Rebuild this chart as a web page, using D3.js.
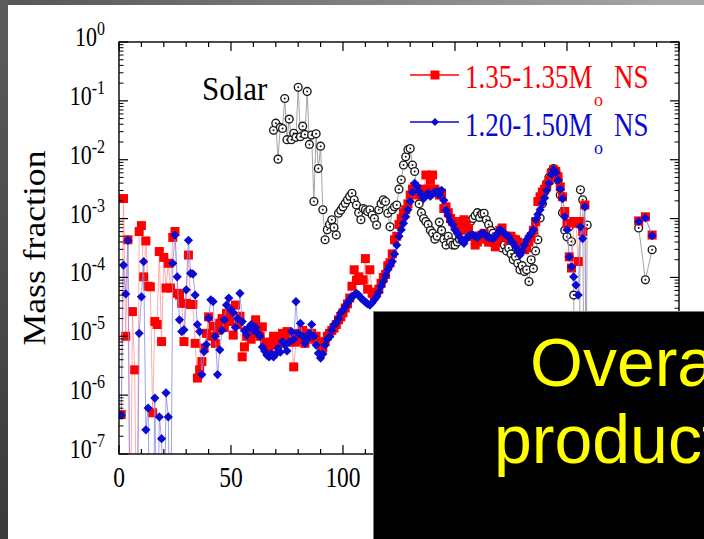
<!DOCTYPE html>
<html>
<head>
<meta charset="utf-8">
<script src="https://cdn.jsdelivr.net/npm/d3@7"></script>
<style>
  html, body { margin: 0; padding: 0; background: #fff; }
  svg { display: block; }
</style>
</head>
<body>
<svg id="chart" width="704" height="539"></svg>
<script>
// Mass number A of every nuclide computed by the two merger models
const nsMass = [
  1,2,3,4,5,6,7,8,9,10, 11,12,13,14,15,16,17,18,19,20,
  21,22,23,24,25,26,27,28,29,30, 31,32,33,34,35,36,37,38,39,40,
  41,42,43,44,45,46,47,48,49,50, 51,52,53,54,55,56,57,58,59,60,
  61,62,63,64,65,66,67,68,69,70, 71,72,73,74,75,76,77,78,79,80,
  81,82,83,84,85,86,87,88,89,90, 91,92,93,94,95,96,97,98,99,100,
  101,102,103,104,105,106,107,108,109,110, 111,112,113,114,115,116,117,118,119,120,
  121,122,123,124,125,126,127,128,129,130, 131,132,133,134,135,136,137,138,139,140,
  141,142,143,144,145,146,147,148,149,150, 151,152,153,154,155,156,157,158,159,160,
  161,162,163,164,165,166,167,168,169,170, 171,172,173,174,175,176,177,178,179,180,
  181,182,183,184,185,186,187,188,189,190, 191,192,193,194,195,196,197,198,199,200,
  201,202,203,204,205,206,207,208,209, 232,235,238
];

// log10 of the mass fraction, 1.35-1.35 Msun NS merger
const logX_135_135 = [
  -6.33,-2.66,-5.00,-3.36,-9,-4.58,-5.57,-9,-3.22,-3.12,
  -3.99,-3.38,-4.15,-4.16,-6.30,-4.75,-4.80,-3.56,-5.09,-3.66,
  -4.18,-3.76,-4.18,-3.32,-3.22,-4.27,-4.30,-4.44,-5.09,-4.44,
  -3.62,-4.46,-4.46,-5.12,-5.71,-5.57,-5.43,-5.20,-4.95,-4.67,
  -5.00,-4.83,-5.12,-4.90,-4.78,-4.70,-4.85,-4.61,-4.70,-4.75,
  -4.98,-4.47,-4.80,-4.66,-5.35,-5.18,-5.00,-4.90,-5.05,-4.95,
  -4.72,-4.85,-5.00,-4.84,-5.10,-5.20,-5.20,-5.10,-5.00,-5.15,
  -5.01,-5.10,-4.95,-5.00,-4.92,-5.10,-5.00,-5.52,-5.10,-4.95,
  -5.05,-4.90,-5.12,-5.00,-4.95,-4.95,-5.05,-5.00,-5.10,-5.15,
  -5.20,-5.09,-5.00,-4.95,-4.90,-4.86,-4.80,-4.72,-4.67,-4.60,
  -4.52,-4.45,-4.35,-4.15,-3.87,-4.05,-3.99,-4.05,-4.04,-3.68,
  -4.20,-3.87,-4.27,-4.30,-4.25,-4.20,-4.10,-4.00,-3.95,-3.80,
  -3.75,-3.60,-3.36,-3.30,-3.10,-3.00,-2.90,-2.85,-2.75,-2.60,
  -2.50,-2.46,-2.50,-2.60,-2.50,-2.54,-2.26,-2.50,-2.35,-2.26,
  -2.50,-2.54,-2.60,-2.57,-2.83,-2.80,-2.90,-3.00,-3.05,-3.11,
  -3.15,-3.20,-3.05,-3.02,-3.10,-3.17,-3.30,-3.30,-3.45,-3.40,
  -3.30,-3.28,-3.25,-3.35,-3.40,-3.35,-3.40,-3.48,-3.35,-3.20,
  -3.16,-3.30,-3.30,-3.36,-3.30,-3.35,-3.36,-3.40,-3.45,-3.48,
  -3.53,-3.50,-3.40,-3.31,-3.20,-3.05,-2.71,-2.63,-2.55,-2.50,
  -2.43,-2.35,-2.23,-2.17,-2.20,-2.29,-2.46,-2.63,-2.88,-3.08,
  -3.65,-3.84,-3.05,-3.08,-3.73,-3.05,-3.22,-2.77,-9,
  -3.04,-2.97,-3.28
];

// log10 of the mass fraction, 1.20-1.50 Msun NS merger
const logX_120_150 = [
  -6.34,-3.79,-4.28,-3.37,-9,-9,-9,-9,-4.95,-4.33,
  -3.73,-6.59,-6.22,-9,-9,-6.05,-9,-6.37,-6.74,-9,
  -5.96,-6.37,-9,-3.76,-3.28,-3.99,-4.72,-4.92,-4.89,-4.21,
  -3.37,-3.93,-3.94,-4.30,-4.80,-4.92,-5.65,-5.26,-5.14,-4.69,
  -4.38,-4.41,-5.00,-5.65,-5.23,-4.90,-4.72,-4.47,-4.35,-4.55,
  -4.60,-4.85,-4.70,-4.27,-4.75,-4.90,-4.98,-4.85,-4.80,-4.90,
  -4.85,-4.95,-5.00,-5.18,-5.25,-5.32,-5.35,-5.30,-5.35,-5.30,
  -5.20,-5.27,-5.09,-5.15,-5.25,-5.10,-4.92,-5.05,-4.41,-4.95,
  -4.78,-5.00,-5.12,-5.05,-4.95,-4.80,-5.00,-5.15,-5.29,-5.37,
  -5.30,-5.15,-5.05,-5.01,-4.90,-4.80,-4.78,-4.70,-4.60,-4.56,
  -4.50,-4.44,-4.38,-4.32,-4.30,-4.27,-4.30,-4.35,-4.38,-4.42,
  -4.45,-4.47,-4.43,-4.38,-4.33,-4.25,-4.15,-4.07,-3.97,-3.87,
  -3.80,-3.73,-3.60,-3.45,-3.30,-3.19,-3.08,-2.97,-2.85,-2.71,
  -2.55,-2.40,-2.45,-2.54,-2.60,-2.66,-2.60,-2.57,-2.62,-2.58,
  -2.55,-2.54,-2.60,-2.52,-2.69,-2.86,-2.95,-3.05,-3.10,-3.19,
  -3.25,-3.31,-3.38,-3.42,-3.35,-3.30,-3.28,-3.28,-3.30,-3.32,
  -3.28,-3.25,-3.25,-3.30,-3.32,-3.33,-3.34,-3.30,-3.25,-3.19,
  -3.22,-3.25,-3.28,-3.31,-3.38,-3.42,-3.48,-3.55,-3.62,-3.55,
  -3.45,-3.36,-3.30,-3.25,-3.19,-3.02,-2.93,-2.85,-2.74,-2.65,
  -2.52,-2.40,-2.25,-2.17,-2.22,-2.35,-2.50,-2.66,-2.97,-3.19,
  -3.65,-3.82,-3.99,-4.13,-4.30,-3.14,-3.34,-2.80,-9,
  -3.05,-2.99,-3.29
];

// Solar-system abundance pattern (scaled), mass numbers and log10 mass fraction
const solarMass = [
  69,70,71,72,73,74,75,76,77,78, 79,80,81,82,83,84,85,86,87,88,
  89,90,91,92,93,94,95,96,97,98, 99,100,101,102,103,104,105,106,107,108,
  109,110,111,112,113,114,115,116,117,118, 119,120,121,122,123,124,125,126,127,128,
  129,130,131,132,133,134,135,136,137,138, 139,140,141,142,143,144,145,146,147,148,
  149,150,151,152,153,154,155,156,157,158, 159,160,161,162,163,164,165,166,167,168,
  169,170,171,172,173,174,175,176,177,178, 179,180,181,182,183,184,185,186,187,188,
  189,190,191,192,193,194,195,196,197,198, 199,200,201,202,203,204,205,206,207,208,
  209, 232,235,238
];
const logX_solar = [
  -1.50,-1.38,-1.99,-1.45,-1.47,-0.96,-1.66,-1.31,-1.66,-1.55,
  -1.62,-0.77,-1.61,-1.43,-1.57,-0.84,-1.74,-1.58,-2.71,-1.56,
  -2.15,-1.77,-2.85,-3.36,-3.19,-3.10,-3.02,-3.15,-3.28,-2.91,
  -2.86,-2.80,-2.74,-2.68,-2.62,-2.57,-2.68,-2.77,-2.90,-3.02,
  -2.83,-2.85,-2.88,-2.85,-2.94,-3.00,-3.11,-2.85,-2.75,-2.68,
  -2.71,-2.91,-3.14,-2.85,-2.80,-2.77,-2.50,-2.34,-2.09,-1.95,
  -1.83,-1.81,-2.09,-2.20,-2.55,-2.75,-2.90,-3.00,-3.05,-3.10,
  -3.20,-3.25,-3.35,-3.30,-3.06,-3.20,-3.35,-3.45,-3.30,-3.40,
  -3.45,-3.45,-3.40,-3.35,-3.30,-3.25,-3.20,-3.15,-3.05,-3.00,
  -2.95,-2.90,-2.98,-2.92,-2.91,-3.02,-3.10,-3.20,-3.25,-3.35,
  -3.40,-3.45,-3.50,-3.45,-3.55,-3.50,-3.60,-3.70,-3.65,-3.76,
  -3.87,-3.80,-3.90,-3.87,-4.07,-3.70,-3.85,-3.55,-3.36,-2.99,
  -2.75,-2.55,-2.40,-2.30,-2.20,-2.15,-2.20,-2.35,-2.60,-2.90,
  -3.20,-3.31,-3.14,-3.39,-4.30,-9,-9,-2.51,-2.68,-9,
  -3.11, -3.16,-4.04,-3.53
];

// axis ticks; only the first three x labels lie outside the caption box
const xTicksMajor = [0, 50, 100, 150, 200, 250];
const xTickLabels = [0, 50, 100];
const yDecades = [0, -1, -2, -3, -4, -5, -6, -7];
const legendLabels = ["1.35-1.35M", "1.20-1.50M"];

const svg = d3.select("#chart");
const W = 704, H = 539;
const m = { left: 119, right: 679, top: 42, bottom: 454 };

const x = d3.scaleLinear().domain([0, 250]).range([m.left, m.right]);
const y = d3.scaleLinear().domain([-7, 0]).range([m.bottom, m.top]);

const serif = "'Liberation Serif', 'Times New Roman', Times, serif";

// plot clip so points/lines below 10^-7 are cut at the frame
const defs = svg.append("defs");
defs.append("clipPath").attr("id", "plotClip")
  .append("rect").attr("x", m.left).attr("y", m.top)
  .attr("width", m.right - m.left).attr("height", m.bottom - m.top);

const plot = svg.append("g").attr("clip-path", "url(#plotClip)");

function toPoints(masses, vals) {
  return masses.map((a, i) => ({ a, v: vals[i] }));
}
// split a series where mass numbers jump (e.g. the actinides)
function segments(pts) {
  const out = [];
  let cur = [];
  pts.forEach((p, i) => {
    if (i > 0 && p.a - pts[i - 1].a > 5) { out.push(cur); cur = []; }
    cur.push(p);
  });
  out.push(cur);
  return out;
}
const line = d3.line().x(d => x(d.a)).y(d => y(d.v));

const solarPts = toPoints(solarMass, logX_solar);
const redPts = toPoints(nsMass, logX_135_135);
const bluePts = toPoints(nsMass, logX_120_150);

// solar pattern
segments(solarPts).forEach(s => plot.append("path").attr("d", line(s))
  .attr("fill", "none").attr("stroke", "#9a9a9a").attr("stroke-width", 0.9));
const sol = plot.append("g").selectAll("g").data(solarPts.filter(d => d.v > -7.2)).join("g")
  .attr("transform", d => `translate(${x(d.a)},${y(d.v)})`);
sol.append("circle").attr("r", 3.9).attr("fill", "#fff").attr("stroke", "#1a1a1a").attr("stroke-width", 1.4);
sol.append("circle").attr("r", 1).attr("fill", "#1a1a1a");

// 1.35-1.35 model: red squares
segments(redPts).forEach(s => plot.append("path").attr("d", line(s))
  .attr("fill", "none").attr("stroke", "#ff9a9a").attr("stroke-width", 1).attr("stroke-opacity", 0.8));
const sq = 9;
plot.append("g").selectAll("rect").data(redPts.filter(d => d.v > -7.2)).join("rect")
  .attr("x", d => x(d.a) - sq / 2).attr("y", d => y(d.v) - sq / 2)
  .attr("width", sq).attr("height", sq).attr("fill", "#ff0000");

// 1.20-1.50 model: blue diamonds
segments(bluePts).forEach(s => plot.append("path").attr("d", line(s))
  .attr("fill", "none").attr("stroke", "#8a8ae8").attr("stroke-width", 1).attr("stroke-opacity", 0.8));
const dh = 4.6;
const diamond = `M0,${-dh}L${dh},0L0,${dh}L${-dh},0Z`;
plot.append("g").selectAll("path").data(bluePts.filter(d => d.v > -7.2)).join("path")
  .attr("d", diamond).attr("transform", d => `translate(${x(d.a)},${y(d.v)})`)
  .attr("fill", "#0a0ad0");

// frame and ticks
const axes = svg.append("g").attr("stroke", "#000").attr("fill", "none");
axes.append("rect").attr("x", m.left).attr("y", m.top)
  .attr("width", m.right - m.left).attr("height", m.bottom - m.top).attr("stroke-width", 1.4);

const xMinor = d3.range(0, 251, 10);
xMinor.forEach(v => {
  const len = xTicksMajor.includes(v) ? 9 : 5;
  axes.append("line").attr("x1", x(v)).attr("x2", x(v)).attr("y1", m.bottom).attr("y2", m.bottom - len).attr("stroke-width", 1.2);
  axes.append("line").attr("x1", x(v)).attr("x2", x(v)).attr("y1", m.top).attr("y2", m.top + len).attr("stroke-width", 1.2);
});
yDecades.forEach(n => {
  [m.left, m.right].forEach((x0, side) => {
    const dir = side === 0 ? 1 : -1;
    axes.append("line").attr("x1", x0).attr("x2", x0 + dir * 9).attr("y1", y(n)).attr("y2", y(n)).attr("stroke-width", 1.2);
    if (n > -7) {
      d3.range(2, 10).forEach(k => {
        const yy = y(n - 1 + Math.log10(k));
        axes.append("line").attr("x1", x0).attr("x2", x0 + dir * 4.5).attr("y1", yy).attr("y2", yy).attr("stroke-width", 1);
      });
    }
  });
});

// tick labels
const labels = svg.append("g").attr("font-family", serif).attr("fill", "#000");
xTickLabels.forEach(v => {
  labels.append("text").attr("transform", `translate(${x(v)},487) scale(1,1.22)`)
    .attr("text-anchor", "middle").attr("font-size", 23.5).text(v);
});
yDecades.forEach(n => {
  const t = labels.append("text").attr("transform", `translate(105,${y(n) + 4}) scale(1,1.22)`)
    .attr("text-anchor", "end");
  t.append("tspan").attr("font-size", 22).text("10");
  t.append("tspan").attr("font-size", 16).attr("dy", -9).text(n === 0 ? "0" : "-" + (-n));
});

// axis title
labels.append("text").attr("transform", "translate(45,248) rotate(-90) scale(1.15,1)")
  .attr("text-anchor", "middle").attr("font-size", 31).text("Mass fraction");

// annotation
labels.append("text").attr("transform", "translate(202,100) scale(1,1.07)")
  .attr("font-size", 31).text("Solar");

// legend
const legend = svg.append("g").attr("font-family", serif);
const legendRows = [
  { y: 75, base: 88, sub: 106, color: "#ff0000", label: legendLabels[0], mark: "square" },
  { y: 122, base: 136, sub: 154, color: "#0a0ad0", label: legendLabels[1], mark: "diamond" }
];
legendRows.forEach(r => {
  legend.append("line").attr("x1", 410).attr("x2", 459).attr("y1", r.y).attr("y2", r.y)
    .attr("stroke", r.color).attr("stroke-width", 1.3);
  if (r.mark === "square") {
    legend.append("rect").attr("x", 435 - 4.5).attr("y", r.y - 4.5).attr("width", 9).attr("height", 9).attr("fill", r.color);
  } else {
    legend.append("path").attr("d", "M0,-4L4,0L0,4L-4,0Z").attr("transform", `translate(435,${r.y})`).attr("fill", r.color);
  }
  legend.append("text").attr("transform", `translate(465,${r.base}) scale(1,1.22)`)
    .attr("font-size", 27).attr("fill", r.color).text(r.label);
  legend.append("text").attr("transform", `translate(594,${r.sub}) scale(1,1.1)`)
    .attr("font-size", 18).attr("fill", r.color).text("o");
  legend.append("text").attr("transform", `translate(614,${r.base}) scale(1,1.22)`)
    .attr("font-size", 27).attr("fill", r.color).text("NS");
});

// slide frame around the figure
const gl = defs.append("linearGradient").attr("id", "leftBar").attr("x1", 0).attr("y1", 0).attr("x2", 0).attr("y2", 1);
gl.append("stop").attr("offset", 0).attr("stop-color", "#5c5c5c");
gl.append("stop").attr("offset", 1).attr("stop-color", "#3a3a3a");
const gt = defs.append("linearGradient").attr("id", "topBar").attr("x1", 0).attr("y1", 0).attr("x2", 1).attr("y2", 0);
gt.append("stop").attr("offset", 0).attr("stop-color", "#555");
gt.append("stop").attr("offset", 1).attr("stop-color", "#aaa");
svg.append("rect").attr("x", 0).attr("y", 0).attr("width", W).attr("height", 5).attr("fill", "url(#topBar)");
svg.append("rect").attr("x", 0).attr("y", 0).attr("width", 8).attr("height", H).attr("fill", "url(#leftBar)");

// caption box
svg.append("rect").attr("x", 373.5).attr("y", 311.5).attr("width", 340).attr("height", 240)
  .attr("fill", "#000").attr("stroke", "#7a7a7a").attr("stroke-width", 1);
const cap = svg.append("g").attr("font-family", "'Liberation Sans', Arial, sans-serif")
  .attr("font-size", 68).attr("fill", "#ffff00");
cap.append("text").attr("x", 530).attr("y", 386).text("Overall");
cap.append("text").attr("x", 494).attr("y", 463).text("production");
</script>
</body>
</html>
